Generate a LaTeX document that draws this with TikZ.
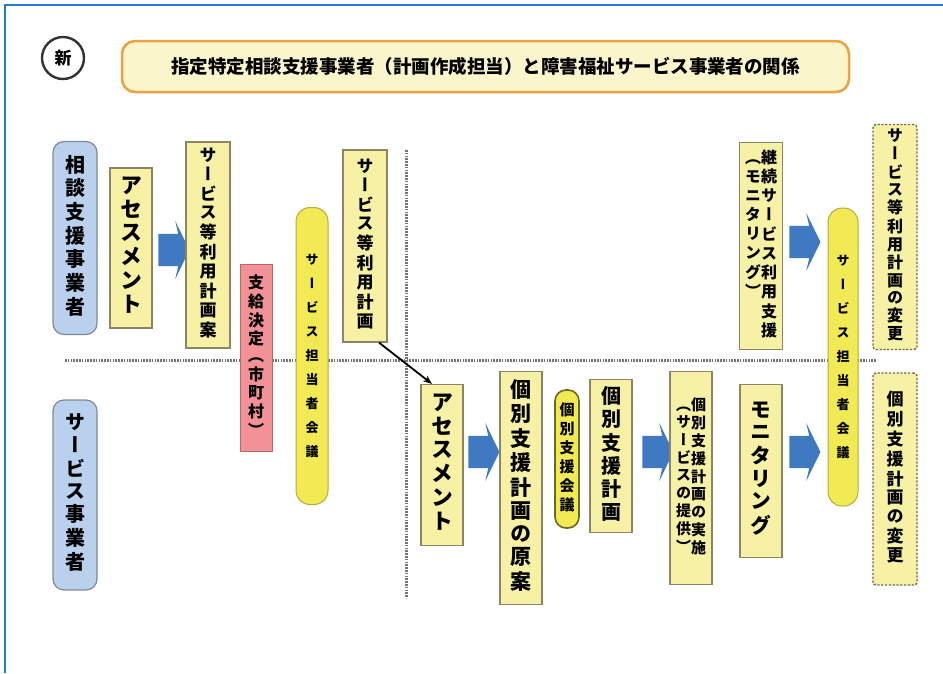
\documentclass[tikz,border=0pt]{standalone}
\usepackage{fontspec}
\usetikzlibrary{shapes.arrows,arrows.meta}
\newfontfamily\jpv[RawFeature=+vert]{Noto Sans CJK JP}
\newfontfamily\jp{Noto Sans CJK JP}
\definecolor{paleyel}{HTML}{F6F1A4}
\definecolor{yelline}{HTML}{8C8462}
\definecolor{pillyel}{HTML}{F1EA55}
\definecolor{pilline}{HTML}{B4AC3A}
\definecolor{actblue}{HTML}{B9D1EC}
\definecolor{actline}{HTML}{7F8A96}
\definecolor{pinkred}{HTML}{F29196}
\definecolor{pinkline}{HTML}{B86868}
\definecolor{arrblue}{HTML}{3F79C2}
\definecolor{titlefill}{HTML}{FBF5CC}
\definecolor{titleline}{HTML}{E9A244}
\definecolor{framblue}{HTML}{1F80D2}
\definecolor{sepgray}{HTML}{7A7272}
\ExplSyntaxOn
\seq_new:N \l_vt_seq
\NewDocumentCommand\vtext{m}{
  \seq_clear:N \l_vt_seq
  \tl_map_inline:nn {#1} { \seq_put_right:Nn \l_vt_seq {##1} }
  \begin{tabular}[t]{@{}c@{}} \seq_use:Nn \l_vt_seq { \\ } \end{tabular}
}
\ExplSyntaxOff
\begin{document}
\begin{tikzpicture}[x=1pt,y=-1pt,
    vf/.style 2 args={font=\jpv\bfseries\fontsize{#1}{#2}\selectfont},
    stepbox/.style={draw=yelline,fill=paleyel,line width=1.2pt,inner sep=0pt},
    actor/.style={draw=actline,fill=actblue,line width=1.2pt,rounded corners=11pt,inner sep=0pt},
    pill/.style={draw=pilline,fill=pillyel,line width=1pt,rounded corners=14pt,inner sep=0pt},
    decision/.style={draw=pinkline,fill=pinkred,line width=1pt,inner sep=0pt},
    changebox/.style={draw=yelline!80!black,fill=paleyel,line width=1.4pt,dash pattern=on 2.2pt off 1.6pt,rounded corners=3pt,inner sep=0pt},
    fatarrow/.style={single arrow,fill=arrblue,draw=none,minimum height=31pt,inner xsep=0pt,inner ysep=16pt,
      single arrow head extend=13pt,single arrow tip angle=128,single arrow head indent=3pt},
    sepline/.style={sepgray,line width=3pt,dash pattern=on 1.6pt off 1.2pt}]
\useasboundingbox (0,0) rectangle (943,673);
\draw[framblue,line width=2.5pt] (943,5) -- (5,5) -- (5,673);

\node[circle,draw=black!80,line width=2.4pt,minimum size=42pt,inner sep=0pt,font=\jp\bfseries\fontsize{17}{17}\selectfont] (new) at (63,58) {新};
\node[draw=titleline,fill=titlefill,line width=2.5pt,rounded corners=13pt,minimum width=727pt,minimum height=51pt,
  font=\jp\bfseries\fontsize{18.5}{19}\selectfont] (title) at (485.5,66.5) {指定特定相談支援事業者（計画作成担当）と障害福祉サービス事業者の関係};

\draw[sepline] (406,150) -- (406,598);
\draw[sepline] (65,360) -- (877,360);

\node[actor,minimum width=44pt,minimum height=193pt,vf={20}{22}] (consult) at (75,238) {\vtext{相談支援事業者}};
\node[actor,minimum width=44pt,minimum height=190pt,vf={20}{22}] (provider) at (75,495) {\vtext{サービス事業者}};

\node[stepbox,minimum width=42pt,minimum height=160pt,vf={22}{22}] (assess1) at (131,248) {\vtext{アセスメント}};
\node[fatarrow] (ar1) at (170,250) {};
\node[stepbox,minimum width=44pt,minimum height=206pt,vf={17}{18}] (draftplan) at (208,245) {\vtext{サービス等利用計画案}};
\node[decision,minimum width=32pt,minimum height=187pt,vf={16}{17}] (decide) at (256,358) {\vtext{支給決定（市町村）}};
\node[pill,minimum width=32pt,minimum height=297pt,vf={13}{24}] (meet1) at (312,356) {\vtext{サービス担当者会議}};
\node[stepbox,minimum width=44pt,minimum height=192pt,vf={17}{18}] (useplan) at (365,246) {\vtext{サービス等利用計画}};

\node[stepbox,minimum width=42pt,minimum height=161pt,vf={22}{23}] (assess2) at (442,465) {\vtext{アセスメント}};
\node[fatarrow] (ar2) at (480,452) {};
\node[stepbox,minimum width=42pt,minimum height=233pt,vf={21}{22}] (indraft) at (521,488) {\vtext{個別支援計画の原案}};
\node[pill,draw=olive!70!black,line width=1.6pt,rounded corners=11pt,minimum width=24pt,minimum height=138pt,vf={15}{19}] (meet2) at (567,459) {\vtext{個別支援会議}};
\node[stepbox,minimum width=42pt,minimum height=153pt,vf={20}{21}] (indplan) at (611,456) {\vtext{個別支援計画}};
\node[fatarrow] (ar3) at (654,452) {};
\node[stepbox,minimum width=42pt,minimum height=213pt,vf={15}{17.5}] (execute) at (691,478) {\vtext{（サービスの提供）}\vtext{個別支援計画の実施}};
\node[stepbox,minimum width=42pt,minimum height=173pt,vf={21}{22}] (monitor) at (761,471) {\vtext{モニタリング}};
\node[fatarrow] (ar4) at (801,452) {};

\node[stepbox,minimum width=43pt,minimum height=207pt,vf={16}{19}] (contsup) at (761,246) {\vtext{（モニタリング）}\vtext{継続サービス利用支援}};
\node[fatarrow] (ar5) at (801,242) {};
\node[pill,minimum width=30pt,minimum height=298pt,vf={13}{24}] (meet3) at (843,357) {\vtext{サービス担当者会議}};
\node[changebox,minimum width=44pt,minimum height=225pt,vf={16}{16.5}] (chg1) at (895,237) {\vtext{サービス等利用計画の変更}};
\node[changebox,minimum width=44pt,minimum height=212pt,vf={17}{18}] (chg2) at (895,479) {\vtext{個別支援計画の変更}};

\draw[-{Stealth[length=9pt,width=7pt]},line width=1.8pt] ([xshift=14pt]useplan.south) -- ([xshift=-10pt]assess2.north);
\end{tikzpicture}
\end{document}
